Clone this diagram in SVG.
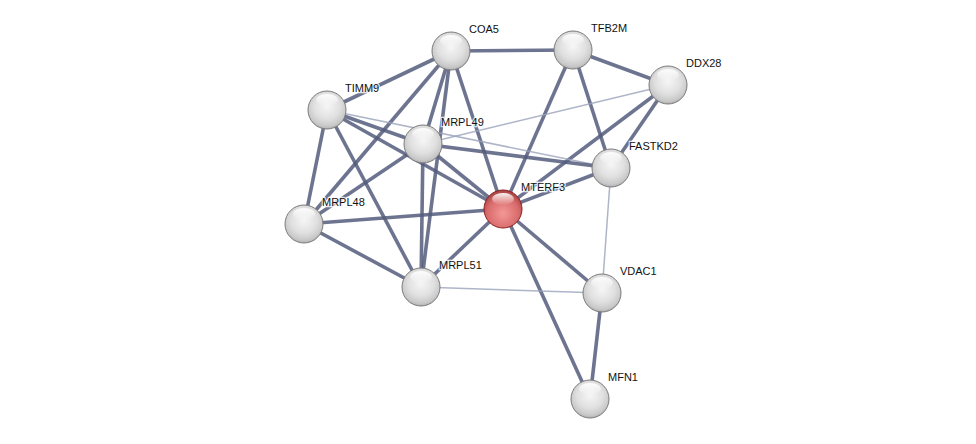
<svg xmlns="http://www.w3.org/2000/svg" width="976" height="444" viewBox="0 0 976 444">
<defs>
<radialGradient id="gw" cx="0.5" cy="0.4" r="0.62">
<stop offset="0" stop-color="#f6f6f6"/>
<stop offset="0.55" stop-color="#e0e0e0"/>
<stop offset="0.85" stop-color="#c8c8c8"/>
<stop offset="1" stop-color="#a8a8a8"/>
</radialGradient>
<radialGradient id="gr" cx="0.5" cy="0.62" r="0.6">
<stop offset="0" stop-color="#f59898"/>
<stop offset="0.7" stop-color="#d86a6a"/>
<stop offset="1" stop-color="#a84444"/>
</radialGradient>
<linearGradient id="hl" x1="0" y1="0" x2="0" y2="1">
<stop offset="0" stop-color="#fff" stop-opacity="0.95"/>
<stop offset="1" stop-color="#fff" stop-opacity="0"/>
</linearGradient>
<g id="shine"><ellipse cx="0" cy="-10" rx="11" ry="6" fill="url(#hl)"/></g>
</defs>
<style>
.e{stroke:#545c7c;stroke-width:3.6;stroke-opacity:0.85;fill:none}
.t{stroke:#9aa2ba;stroke-width:1.5;stroke-opacity:0.8;fill:none}
.n{fill:url(#gw);stroke:#7a7a7a;stroke-width:1}
.r{fill:url(#gr);stroke:#8a2020;stroke-width:1}
text{font-family:"Liberation Sans",Arial,sans-serif;font-size:11px;fill:#111;stroke:#fff;stroke-width:2.5;stroke-opacity:0.8;paint-order:stroke}
</style>
<rect width="976" height="444" fill="#fff"/>
<g id="edges">
<line class="e" x1="451" y1="51" x2="573" y2="50"/>
<line class="e" x1="451" y1="51" x2="327" y2="110"/>
<line class="e" x1="451" y1="51" x2="304" y2="224"/>
<line class="e" x1="451" y1="51" x2="423" y2="144"/>
<line class="e" x1="451" y1="51" x2="421" y2="287"/>
<line class="e" x1="451" y1="51" x2="503" y2="209"/>
<line class="e" x1="573" y1="50" x2="668" y2="85"/>
<line class="e" x1="573" y1="50" x2="503" y2="209"/>
<line class="e" x1="573" y1="50" x2="611" y2="168"/>
<line class="t" x1="668" y1="85" x2="423" y2="144"/>
<line class="e" x1="668" y1="85" x2="503" y2="209"/>
<line class="e" x1="668" y1="85" x2="611" y2="168"/>
<line class="e" x1="327" y1="110" x2="423" y2="144"/>
<line class="t" x1="327" y1="110" x2="611" y2="168"/>
<line class="e" x1="327" y1="110" x2="503" y2="209"/>
<line class="e" x1="327" y1="110" x2="304" y2="224"/>
<line class="e" x1="327" y1="110" x2="421" y2="287"/>
<line class="e" x1="423" y1="144" x2="611" y2="168"/>
<line class="e" x1="423" y1="144" x2="503" y2="209"/>
<line class="e" x1="423" y1="144" x2="304" y2="224"/>
<line class="e" x1="423" y1="144" x2="421" y2="287"/>
<line class="e" x1="611" y1="168" x2="503" y2="209"/>
<line class="t" x1="611" y1="168" x2="602" y2="293"/>
<line class="e" x1="503" y1="209" x2="304" y2="224"/>
<line class="e" x1="503" y1="209" x2="421" y2="287"/>
<line class="e" x1="503" y1="209" x2="602" y2="293"/>
<line class="e" x1="503" y1="209" x2="590" y2="399"/>
<line class="e" x1="304" y1="224" x2="421" y2="287"/>
<line class="t" x1="421" y1="287" x2="602" y2="293"/>
<line class="e" x1="602" y1="293" x2="590" y2="399"/>
</g>
<g id="COA5"><circle class="n" cx="451" cy="51" r="19"/><use href="#shine" x="451" y="51"/><text x="469" y="33">COA5</text></g>
<g id="TFB2M"><circle class="n" cx="573" cy="50" r="19"/><use href="#shine" x="573" y="50"/><text x="591" y="32">TFB2M</text></g>
<g id="DDX28"><circle class="n" cx="668" cy="85" r="19"/><use href="#shine" x="668" y="85"/><text x="686" y="67">DDX28</text></g>
<g id="TIMM9"><circle class="n" cx="327" cy="110" r="19"/><use href="#shine" x="327" y="110"/><text x="345" y="92">TIMM9</text></g>
<g id="MRPL49"><circle class="n" cx="423" cy="144" r="19"/><use href="#shine" x="423" y="144"/><text x="441" y="126">MRPL49</text></g>
<g id="FASTKD2"><circle class="n" cx="611" cy="168" r="19"/><use href="#shine" x="611" y="168"/><text x="629" y="150">FASTKD2</text></g>
<g id="MTERF3"><circle class="r" cx="503" cy="209" r="19"/><use href="#shine" x="503" y="209"/><text x="521" y="191">MTERF3</text></g>
<g id="MRPL48"><circle class="n" cx="304" cy="224" r="19"/><use href="#shine" x="304" y="224"/><text x="322" y="206">MRPL48</text></g>
<g id="MRPL51"><circle class="n" cx="421" cy="287" r="19"/><use href="#shine" x="421" y="287"/><text x="439" y="269">MRPL51</text></g>
<g id="VDAC1"><circle class="n" cx="602" cy="293" r="19"/><use href="#shine" x="602" y="293"/><text x="620" y="275">VDAC1</text></g>
<g id="MFN1"><circle class="n" cx="590" cy="399" r="19"/><use href="#shine" x="590" y="399"/><text x="608" y="381">MFN1</text></g>
</svg>
